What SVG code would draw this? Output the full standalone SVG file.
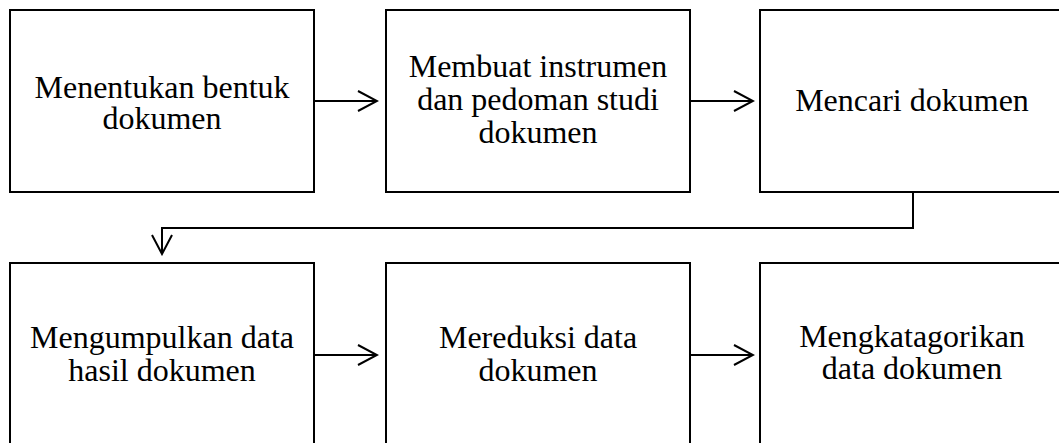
<svg xmlns="http://www.w3.org/2000/svg" width="1059" height="443" viewBox="0 0 1059 443">
  <style>
    .box { fill: #ffffff; stroke: #000000; stroke-width: 2; }
    .label { font-family: "Liberation Serif", "Times New Roman", serif; font-size: 32px; fill: #000000; text-anchor: middle; }
    .wire { fill: none; stroke: #000000; stroke-width: 2; }
  </style>
  <defs>
    <marker id="chevron" viewBox="-22 -12 24 24" refX="0" refY="0" markerWidth="24" markerHeight="24" markerUnits="userSpaceOnUse" orient="auto">
      <path d="M-19,-10 L0,0 L-19,10" fill="none" stroke="#000000" stroke-width="2"/>
    </marker>
  </defs>
  <rect width="1059" height="443" fill="#ffffff"/>

  <!-- top row -->
  <g id="node-menentukan">
    <rect class="box" x="10" y="10" width="304" height="182"/>
    <text class="label" x="162" y="98">Menentukan bentuk</text>
    <text class="label" x="162" y="129">dokumen</text>
  </g>
  <g id="node-membuat">
    <rect class="box" x="386" y="10" width="304" height="182"/>
    <text class="label" x="538" y="77">Membuat instrumen</text>
    <text class="label" x="538" y="110">dan pedoman studi</text>
    <text class="label" x="538" y="143">dokumen</text>
  </g>
  <g id="node-mencari">
    <rect class="box" x="760" y="10" width="304" height="182"/>
    <text class="label" x="912" y="111">Mencari dokumen</text>
  </g>

  <!-- bottom row (runs past the lower edge) -->
  <g id="node-mengumpulkan">
    <rect class="box" x="10" y="263" width="304" height="190"/>
    <text class="label" x="162" y="348">Mengumpulkan data</text>
    <text class="label" x="162" y="381">hasil dokumen</text>
  </g>
  <g id="node-mereduksi">
    <rect class="box" x="386" y="263" width="304" height="190"/>
    <text class="label" x="538" y="348">Mereduksi data</text>
    <text class="label" x="538" y="381">dokumen</text>
  </g>
  <g id="node-mengkatagorikan">
    <rect class="box" x="760" y="263" width="304" height="190"/>
    <text class="label" x="912" y="347">Mengkatagorikan</text>
    <text class="label" x="912" y="379">data dokumen</text>
  </g>

  <!-- connectors -->
  <g id="connectors">
    <line class="wire" x1="314" y1="101" x2="377" y2="101" marker-end="url(#chevron)"/>
    <line class="wire" x1="690" y1="101" x2="753" y2="101" marker-end="url(#chevron)"/>
    <path class="wire" d="M913,192 L913,228 L162,228 L162,254" marker-end="url(#chevron)"/>
    <line class="wire" x1="314" y1="355" x2="377" y2="355" marker-end="url(#chevron)"/>
    <line class="wire" x1="690" y1="355" x2="753" y2="355" marker-end="url(#chevron)"/>
  </g>
</svg>
